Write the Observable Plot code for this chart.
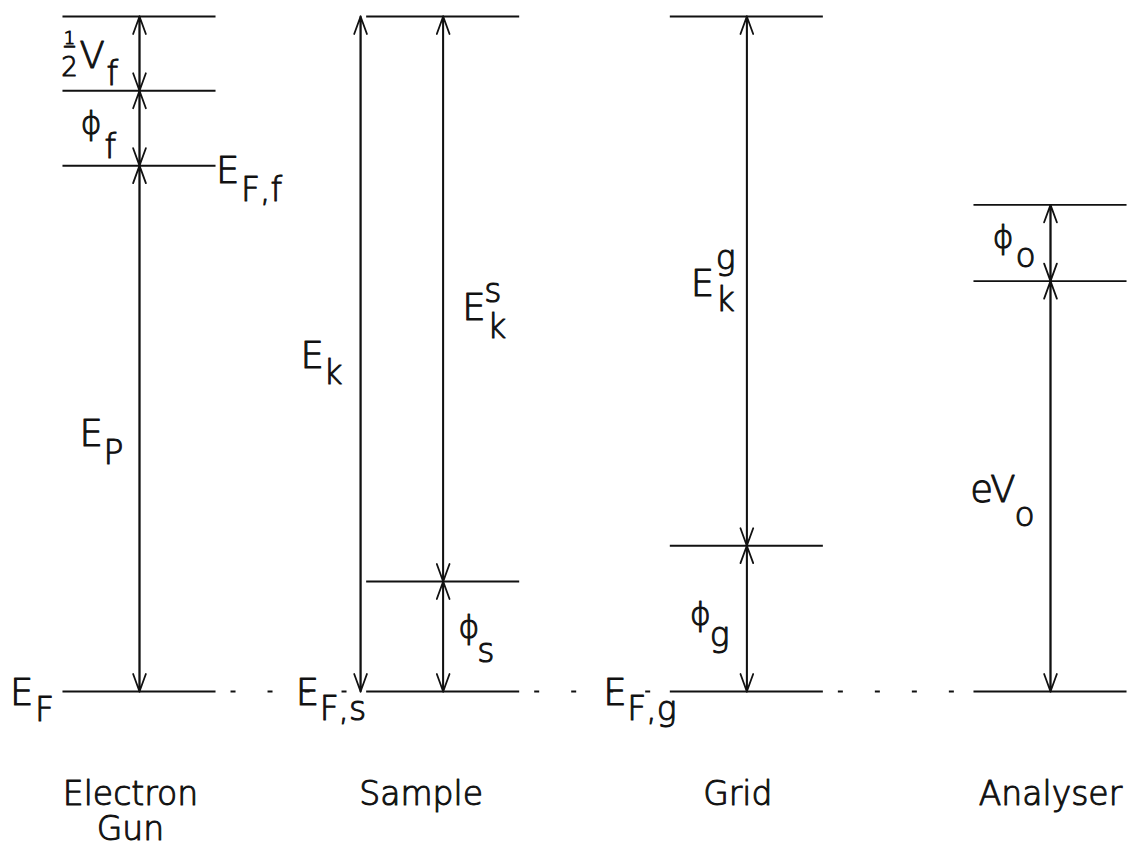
<!DOCTYPE html>
<html>
<head>
<meta charset="utf-8">
<script src="https://cdn.jsdelivr.net/npm/d3@7"></script>
<script src="https://cdn.jsdelivr.net/npm/@observablehq/plot@0.6"></script>
<style>
  html, body { margin: 0; padding: 0; background: #fff; }
</style>
</head>
<body>
<div id="chart"></div>
<script>
// ---------- data ----------
const columnNames = ["Electron\nGun", "Sample", "Grid", "Analyser"];
// energy levels per column (arbitrary units, Fermi level = 0, top = 100)
const gunLevels = [0, 77.9, 89.0, 100];
const sampleLevels = [0, 16.3, 100];
const gridLevels = [0, 21.6, 100];
const analyserLevels = [0, 60.8, 72.1];
// the E_k arrow of the sample spans from the Fermi level to the top level
const sampleKinetic = [0, 100];

// ---------- derived tables ----------
const levelsByColumn = [gunLevels, sampleLevels, gridLevels, analyserLevels];
const levels = levelsByColumn.flatMap((ls, col) => ls.map(e => ({col, e})));
const spans = levelsByColumn.flatMap((ls, col) =>
  ls.slice(1).map((e, i) => ({col, shift: 0, from: ls[i], to: e})));
spans.push({col: 1, shift: -0.272, from: sampleKinetic[0], to: sampleKinetic[1]});

// ---------- layout / style ----------
const H = 0.252;            // half width of a level line (column units)
const MAIN = 37, SUB = 33, PHI = 32, INK = "#111";
const font = "'DejaVu Sans', 'Liberation Sans', sans-serif";
const nameShift = [-9, -22, -9, 0];   // horizontal nudges of the column names (px)

const marks = [];

// level lines
marks.push(Plot.ruleY(levels, {
  y: "e", x1: d => d.col - H, x2: d => d.col + H,
  stroke: INK, strokeWidth: 1.9
}));

// dashed Fermi-level connectors between columns
const gaps = [0, 1, 2].map(c => ({a: c + H, b: c + 1 - H, e: 0}));
marks.push(Plot.ruleY(gaps, {
  y: "e", x1: "a", x2: "b", stroke: INK, strokeWidth: 1.9,
  strokeDasharray: "5,32", strokeDashoffset: -15
}));

// double-headed arrows
const ax = d => d.col + d.shift;
const arrowOpts = {stroke: INK, strokeWidth: 1.8, headLength: 15.5, headAngle: 40};
marks.push(Plot.arrow(spans, {x1: ax, x2: ax, y1: "from", y2: "to", ...arrowOpts}));
marks.push(Plot.arrow(spans, {x1: ax, x2: ax, y1: "to", y2: "from", ...arrowOpts}));

// labels: anchor in data units, parts offset in pixels
function label(x, y, parts) {
  for (const [text, size, dx, dy, anchor] of parts) {
    marks.push(Plot.text([{x, y, text}], {
      x: "x", y: "y", text: "text", fontSize: size, dx, dy,
      textAnchor: anchor || "start", lineAnchor: "bottom",
      fill: INK, stroke: INK, strokeWidth: 1.0
    }));
  }
}
const mid = s => (s.from + s.to) / 2;

// span labels (order follows spans)
label(0, mid(spans[0]), [["E", MAIN, -60, 17], ["P", SUB, -36, 35]]);
label(0, mid(spans[1]), [["ϕ", PHI, -59, 6], ["f", SUB, -35, 30]]);
label(0, mid(spans[2]), [["1", 18, -70, -10, "middle"], ["–", 26, -70, 0, "middle"],
                         ["2", 26, -70, 22, "middle"], ["V", MAIN, -60, 14], ["f", SUB, -33, 31]]);
label(1, mid(spans[3]), [["ϕ", PHI, 15, 2], ["s", SUB, 34, 26]]);
label(1, mid(spans[4]), [["E", MAIN, 19, 21.5], ["s", SUB, 41, 3.5], ["k", SUB, 44, 39.5]]);
label(2, mid(spans[5]), [["ϕ", PHI, -57, 6], ["g", SUB, -37, 27]]);
label(2, mid(spans[6]), [["E", MAIN, -56, 14.5], ["g", SUB, -31, -12.5], ["k", SUB, -31, 29.5]]);
label(3, mid(spans[7]), [["eV", MAIN, -35, 16, "end"], ["o", SUB, -36, 40]]);
label(3, mid(spans[8]), [["ϕ", PHI, -58, 5], ["o", SUB, -35, 24.5]]);
label(1 - 0.272, mid(spans[9]), [["E", MAIN, -60, 13.5], ["k", SUB, -37, 29.5]]);

// Fermi level labels
label(0 + H, gunLevels[1], [["E", MAIN, 0, 17], ["F,f", SUB, 25, 35]]);
label(0 - H, gunLevels[0], [["E", MAIN, -53, 13], ["F", SUB, -28, 29]]);
label(1 - H, sampleLevels[0], [["E", MAIN, -71, 13], ["F,s", SUB, -47, 28]]);
label(2 - H, gridLevels[0], [["E", MAIN, -67, 13], ["F,g", SUB, -43, 28]]);

// column names below the diagram
columnNames.forEach((name, i) => {
  marks.push(Plot.text([name], {
    x: () => i, frameAnchor: "bottom", text: d => d,
    fontSize: 33, lineHeight: 1.06, lineAnchor: "top",
    dy: 89, dx: nameShift[i], textAnchor: "middle",
    fill: INK, stroke: INK, strokeWidth: 1.0
  }));
});

const chart = Plot.plot({
  width: 1128, height: 845,
  marginTop: 0, marginRight: 0, marginLeft: 0, marginBottom: 154,
  x: {domain: [0, 3], range: [139, 1050], axis: null},
  y: {domain: [0, 100], range: [691, 16], axis: null},
  style: {fontFamily: font, fontSize: "33px", background: "#fff", color: INK, fontWeight: 200},
  marks
});
document.getElementById("chart").append(chart);
</script>
</body>
</html>
